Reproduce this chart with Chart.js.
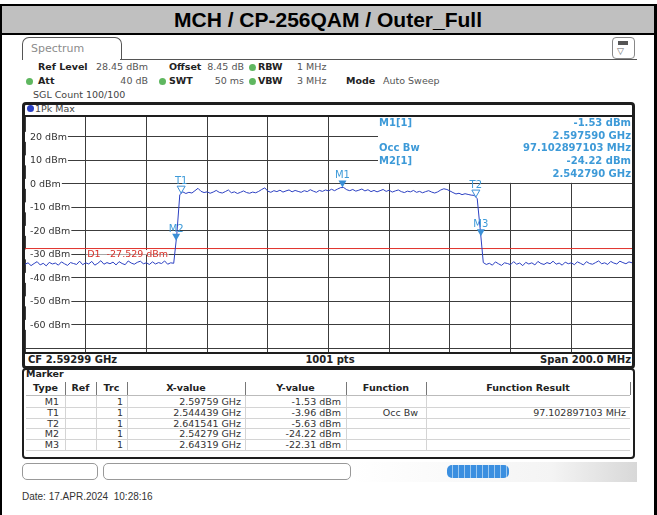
<!DOCTYPE html>
<html>
<head>
<meta charset="utf-8">
<script src="https://cdn.jsdelivr.net/npm/chart.js@4.4.1/dist/chart.umd.min.js"></script>
<style>
  body { margin: 0; width: 657px; height: 515px; position: relative; background: #fff; overflow: hidden; font-family: "DejaVu Sans", sans-serif; }
  .abs { position: absolute; }
  .t { position: absolute; white-space: pre; line-height: 12px; }
  #title { left: 2px; top: 6px; width: 652px; height: 27px; background: #c0c0c0; border-bottom: 2px solid #000;
           font: bold 21px "Liberation Sans", Arial, sans-serif; text-align: center; line-height: 28px; color: #000; }
  .dot { position: absolute; width: 7px; height: 7px; border-radius: 50%; background: #5fb760; }
</style>
</head>
<body>
<div class="abs" style="left:0;top:4px;width:657px;height:511px;border-top:2px solid #000;border-left:2px solid #000;border-right:3px solid #000;box-sizing:border-box;"></div>
<div class="abs" id="title">MCH / CP-256QAM / Outer_Full</div>

<!-- spectrum tab -->
<div class="abs" style="left:22px;top:37px;width:98px;height:22px;border:1px solid #555;border-bottom:none;border-radius:7px 7px 0 0;"></div>
<div class="abs" style="left:120px;top:59px;width:517px;height:1px;background:#555;"></div>
<div class="t" style="left:31px;top:43px;font-size:11px;color:#8c8c8c;">Spectrum</div>
<div class="abs" style="left:612px;top:37px;width:21px;height:20px;border:1px solid #888;border-radius:4px;"></div>
<div class="abs" style="left:618px;top:41px;width:10px;height:4px;background:#555;"></div>
<div class="t" style="left:617px;top:45px;font-size:9px;color:#666;">▽</div>

<div id="ui"></div>

<!-- plot frame -->
<div class="abs" style="left:22px;top:102px;width:613px;height:267px;border:3px solid #1e1e1e;border-radius:4px;box-sizing:border-box;"></div>
<div class="abs" style="left:22px;top:115px;width:613px;height:2px;background:#1e1e1e;"></div>
<div class="abs" style="left:22px;top:352px;width:613px;height:2px;background:#1e1e1e;"></div>
<div class="abs" style="left:27px;top:105px;width:7px;height:7px;border-radius:50%;background:#2a3fc4;"></div>
<canvas id="spec" class="abs" style="left:25px;top:117px;" width="607" height="235"></canvas>

<!-- marker table frame -->
<div class="abs" style="left:22px;top:368px;width:613px;height:91px;border:2px solid #1e1e1e;border-radius:4px;box-sizing:border-box;"></div>

<!-- status bar -->
<div class="abs" style="left:22px;top:463px;width:76px;height:17px;border:1px solid #999;border-radius:5px;box-sizing:border-box;"></div>
<div class="abs" style="left:103px;top:463px;width:248px;height:17px;border:1px solid #999;border-radius:5px;box-sizing:border-box;"></div>
<div class="abs" style="left:352px;top:462px;width:285px;height:20px;background:linear-gradient(to right,#fff 0%,#f4f4f4 70%,#d8d8d8 100%);"></div>
<div class="abs" style="left:447px;top:465px;width:62px;height:13px;border-radius:5px;background:repeating-linear-gradient(to right,#3b8fe0 0,#3b8fe0 5px,#9cc8f0 5px,#9cc8f0 6px);"></div>

<script>
// sweep definition: CF 2.59299 GHz, span 200 MHz
const startGHz = 2.49299;
const stopGHz = 2.69299;
const stepGHz = 0.001;

// trace 1 (1Pk Max), one value per MHz
const traceLevels = [
  -34.2, -33.6, -34.8, -33.9, -33.1, -34.5, -33.8, -34.9, -33.4, -34.1,
  -33.7, -34.6, -33.2, -34.0, -34.7, -33.5, -33.9, -34.3, -32.9, -34.4,
  -33.6, -34.1, -33.0, -34.6, -33.8, -32.7, -34.2, -33.5, -34.0, -33.3,
  -34.5, -33.1, -33.9, -34.4, -32.8, -33.7, -34.2, -33.4, -32.9, -34.0,
  -33.6, -34.3, -33.2, -34.1, -33.5, -33.9, -32.8, -34.2, -33.6, -33.8,
  -21.8, -4.6, -3.4, -4.1, -3.6, -3.9, -2.9, -1.9, -3.2, -3.7,
  -3.4, -4.0, -3.5, -2.8, -3.6, -3.9, -3.3, -2.6, -3.8, -3.4,
  -4.1, -3.6, -3.0, -3.7, -4.0, -3.5, -3.8, -3.2, -2.4, -1.7,
  -3.1, -3.6, -2.9, -3.3, -2.7, -3.5, -3.0, -2.6, -3.4, -2.8,
  -3.2, -3.6, -2.9, -3.3, -2.5, -3.1, -3.6, -2.8, -3.2, -2.6,
  -3.0, -2.3, -2.9, -2.2, -1.6, -1.55, -2.5, -2.9, -2.4, -3.1,
  -2.7, -2.2, -3.0, -2.5, -3.3, -2.8, -3.4, -2.9, -2.4, -3.2,
  -2.7, -3.5, -3.0, -2.6, -3.3, -3.7, -3.1, -3.4, -2.8, -3.6,
  -3.2, -3.8, -3.3, -2.9, -3.5, -3.9, -3.4, -2.6, -2.1, -2.4,
  -3.0, -3.7, -4.3, -4.0, -4.6, -4.2, -4.5, -4.8, -4.9, -6.3,
  -19.5, -33.5, -34.3, -33.8, -34.6, -33.2, -34.0, -34.7, -33.6, -33.9,
  -34.4, -33.1, -34.2, -33.7, -34.8, -33.4, -34.1, -33.6, -34.5, -33.0,
  -33.9, -34.3, -33.5, -34.0, -32.9, -34.2, -33.7, -34.6, -33.3, -34.0,
  -33.6, -34.4, -33.2, -33.8, -34.5, -33.1, -33.9, -34.2, -33.5, -32.8,
  -34.0, -33.6, -34.3, -33.0, -33.7, -34.1, -32.9, -33.5, -34.0, -33.2,
  -33.6
];

const refLevel = 28.45;
const bottomLevel = -71.55;
const yGridLevels = [20, 10, 0, -10, -20, -30, -40, -50, -60, -70];
const yLabelLevels = [20, 10, 0, -10, -20, -30, -40, -50, -60];
const xDivisionsMHz = [0, 20, 40, 60, 80, 100, 120, 140, 160, 180, 200];

const displayLine = -27.529;

const markerNames = ['M1', 'T1', 'T2', 'M2', 'M3'];
const markerFreqGHz = [2.59759, 2.544439, 2.641541, 2.54279, 2.64319];
const markerLevels = [-1.53, -3.96, -5.63, -24.22, -22.31];

const tableX = ['2.59759 GHz', '2.544439 GHz', '2.641541 GHz', '2.54279 GHz', '2.64319 GHz'];
const tableY = ['-1.53 dBm', '-3.96 dBm', '-5.63 dBm', '-24.22 dBm', '-22.31 dBm'];
const tableFunc = ['', 'Occ Bw', '', '', ''];
const tableResult = ['', '97.102897103 MHz', '', '', ''];

const infoLeft = ['M1[1]', '', 'Occ Bw', 'M2[1]', ''];
const infoRight = ['-1.53 dBm', '2.597590 GHz', '97.102897103 MHz', '-24.22 dBm', '2.542790 GHz'];

// ---------- text helpers ----------
const ui = document.getElementById('ui');
function addText(txt, x, y, opts) {
    opts = opts || {};
    let d = document.createElement('div');
    d.className = 't';
    d.textContent = txt;
    d.style.left = x + 'px';
    d.style.top = y + 'px';
    d.style.fontSize = (opts.size || 10) + 'px';
    d.style.color = opts.color || '#222';
    if (opts.bold) d.style.fontWeight = 'bold';
    if (opts.family) d.style.fontFamily = opts.family;
    let tx = opts.align === 'right' ? '-100%' : (opts.align === 'center' ? '-50%' : '0');
    d.style.transform = 'translate(' + tx + ',-50%)';
    ui.appendChild(d);
}
function addBox(x, y, w, h, color) {
    let d = document.createElement('div');
    d.className = 'abs';
    d.style.cssText = 'left:' + x + 'px;top:' + y + 'px;width:' + w + 'px;height:' + h + 'px;background:' + color + ';';
    ui.appendChild(d);
}
function addDot(x, y) {
    let d = document.createElement('div');
    d.className = 'dot';
    d.style.left = (x - 3.5) + 'px';
    d.style.top = (y - 3.5) + 'px';
    ui.appendChild(d);
}

// ---------- settings lines ----------
addText('Ref Level', 38, 67, {bold: true, size: 9.5});
addText('28.45 dBm', 148, 67, {align: 'right', size: 9.5, color: '#555'});
addText('Offset', 169, 67, {bold: true, size: 9.5});
addText('8.45 dB', 244, 67, {align: 'right', size: 9.5, color: '#555'});
addDot(252, 67);
addText('RBW', 258, 67, {bold: true, size: 9.5});
addText('1 MHz', 297, 67, {size: 9.5, color: '#555'});

addDot(29, 81);
addText('Att', 38, 81, {bold: true, size: 9.5});
addText('40 dB', 148, 81, {align: 'right', size: 9.5, color: '#555'});
addDot(162, 81);
addText('SWT', 169, 81, {bold: true, size: 9.5});
addText('50 ms', 244, 81, {align: 'right', size: 9.5, color: '#555'});
addDot(252, 81);
addText('VBW', 258, 81, {bold: true, size: 9.5});
addText('3 MHz', 297, 81, {size: 9.5, color: '#555'});
addText('Mode', 346, 81, {bold: true, size: 9.5});
addText('Auto Sweep', 383, 81, {size: 9.5, color: '#555'});

addText('SGL Count 100/100', 33, 95, {size: 9.5, color: '#444'});
addText('1Pk Max', 35, 109, {size: 9.5, color: '#444'});

addText('CF 2.59299 GHz', 28, 360, {bold: true, size: 10});
addText('1001 pts', 330, 360, {bold: true, size: 10, align: 'center'});
addText('Span 200.0 MHz', 631, 360, {bold: true, size: 10, align: 'right'});

// ---------- marker table ----------
addText('Marker', 26, 374, {bold: true, size: 9.5});
const colEdges = [26, 65, 96, 127, 245, 346, 426, 630];
const headers = ['Type', 'Ref', 'Trc', 'X-value', 'Y-value', 'Function', 'Function Result'];
const rowTop = 396, rowH = 10.8;
for (let c = 0; c < headers.length; c++) {
    addText(headers[c], (colEdges[c] + colEdges[c + 1]) / 2, 388, {bold: true, size: 9.5, align: 'center'});
    if (c > 0) addBox(colEdges[c], 382, 1, 13, '#777');
    if (c > 0) addBox(colEdges[c], rowTop, 1, rowH * 5, '#d4d4d4');
}
addBox(colEdges[7], 382, 1, 13, '#777');
addBox(26, rowTop - 1, 604, 1, '#bbb');
for (let r = 0; r < markerNames.length; r++) {
    let cy = rowTop + rowH * r + rowH / 2 + 0.5;
    addBox(26, rowTop + rowH * (r + 1), 604, 1, '#d4d4d4');
    addText(markerNames[r], colEdges[1] - 6, cy, {align: 'right', size: 9.5, color: '#333'});
    addText('1', colEdges[3] - 4, cy, {align: 'right', size: 9.5, color: '#333'});
    addText(tableX[r], colEdges[4] - 4, cy, {align: 'right', size: 9.5, color: '#333'});
    addText(tableY[r], colEdges[5] - 5, cy, {align: 'right', size: 9.5, color: '#333'});
    if (tableFunc[r]) addText(tableFunc[r], colEdges[6] - 8, cy, {align: 'right', size: 9.5, color: '#333'});
    if (tableResult[r]) addText(tableResult[r], colEdges[7] - 4, cy, {align: 'right', size: 9.5, color: '#333'});
}

// ---------- status bar ----------
addText('Ready', 384, 471, {size: 9.5, color: '#e4e4e4', bold: true});
addText('4/0', 516, 471, {size: 9.5, color: '#8a8a8a', bold: true});
addText('17.04.2024', 570, 469, {size: 8, color: '#e0e0e0', bold: true});
addText('Date: 17.APR.2024  10:28:16', 22, 497, {size: 10, color: '#333', family: '"Liberation Sans", Arial, sans-serif'});

// ---------- chart ----------
const MARKER_BLUE = '#3a8fd6';
const LABEL_BLUE = '#3d9ad8';

let tracePoints = traceLevels.map(function (v, i) {
    return {x: startGHz + i * stepGHz, y: v};
});

const inPlotText = {
    id: 'inPlotText',
    beforeDatasetsDraw(chart) {
        const ctx = chart.ctx;
        const a = chart.chartArea;
        const ys = chart.scales.y;
        ctx.save();
        ctx.font = '9.5px "DejaVu Sans"';
        ctx.textBaseline = 'middle';
        yLabelLevels.forEach(function (v) {
            let py = ys.getPixelForValue(v);
            let txt = v + ' dBm';
            let w = ctx.measureText(txt).width;
            ctx.fillStyle = '#fff';
            ctx.fillRect(a.left, py - 5, w + 6, 10);
            ctx.fillStyle = '#333';
            ctx.fillText(txt, a.left + 5, py + 0.5);
        });

        // marker info block
        let boxLeft = a.left + 353;
        let boxBottom = ys.getPixelForValue(0) - 1;
        ctx.fillStyle = '#fff';
        ctx.fillRect(boxLeft, a.top, a.right - boxLeft, boxBottom - a.top);
        ctx.font = 'bold 10px "DejaVu Sans"';
        ctx.fillStyle = LABEL_BLUE;
        for (let i = 0; i < infoRight.length; i++) {
            let cy = a.top + 6.5 + i * 12.7;
            ctx.textAlign = 'left';
            if (infoLeft[i]) ctx.fillText(infoLeft[i], boxLeft + 1, cy);
            ctx.textAlign = 'right';
            ctx.fillText(infoRight[i], a.right - 1, cy);
        }
        ctx.restore();
    },
    afterDatasetsDraw(chart) {
        const ctx = chart.ctx;
        const xs = chart.scales.x;
        const ys = chart.scales.y;
        ctx.save();
        // display line label
        let ly = ys.getPixelForValue(displayLine);
        ctx.font = '9.5px "DejaVu Sans"';
        let dtxt = 'D1  ' + displayLine + ' dBm';
        let dx = xs.getPixelForValue(startGHz + 0.0205);
        let dw = ctx.measureText(dtxt).width;
        ctx.fillStyle = '#fff';
        ctx.fillRect(dx - 1, ly + 1.5, dw + 2, 4.5);
        ctx.fillStyle = '#d8322a';
        ctx.textBaseline = 'alphabetic';
        ctx.fillText(dtxt, dx, ly + 8.5);

        // markers
        markerNames.forEach(function (name, i) {
            let px = xs.getPixelForValue(markerFreqGHz[i]);
            let py = ys.getPixelForValue(markerLevels[i]);
            ctx.beginPath();
            ctx.moveTo(px, py);
            ctx.lineTo(px - 4, py - 7);
            ctx.lineTo(px + 4, py - 7);
            ctx.closePath();
            if (name.charAt(0) === 'T') {
                ctx.strokeStyle = MARKER_BLUE;
                ctx.lineWidth = 1;
                ctx.stroke();
            } else {
                ctx.fillStyle = MARKER_BLUE;
                ctx.fill();
            }
            ctx.font = '10px "DejaVu Sans"';
            ctx.fillStyle = LABEL_BLUE;
            ctx.textAlign = 'center';
            ctx.fillText(name, px, py - 9);
        });
        ctx.restore();
    }
};

new Chart(document.getElementById('spec'), {
    type: 'line',
    data: {
        datasets: [{
            data: tracePoints,
            borderColor: '#2c40c2',
            borderWidth: 1,
            pointRadius: 0,
            tension: 0
        }, {
            data: [{x: startGHz, y: displayLine}, {x: stopGHz, y: displayLine}],
            borderColor: '#e0302a',
            borderWidth: 1,
            pointRadius: 0
        }]
    },
    options: {
        responsive: false,
        animation: false,
        events: [],
        layout: {padding: 0},
        plugins: {legend: {display: false}, tooltip: {enabled: false}},
        scales: {
            x: {
                type: 'linear',
                min: startGHz,
                max: stopGHz,
                afterBuildTicks: function (scale) {
                    scale.ticks = xDivisionsMHz.map(function (m) { return {value: startGHz + m / 1000}; });
                },
                ticks: {display: false},
                grid: {color: '#3c3c3c', lineWidth: 1, drawTicks: false},
                border: {display: false}
            },
            y: {
                min: bottomLevel,
                max: refLevel,
                afterBuildTicks: function (scale) {
                    scale.ticks = yGridLevels.map(function (v) { return {value: v}; });
                },
                ticks: {display: false},
                grid: {color: '#3c3c3c', lineWidth: 1, drawTicks: false},
                border: {display: false}
            }
        }
    },
    plugins: [inPlotText]
});
</script>
</body>
</html>
